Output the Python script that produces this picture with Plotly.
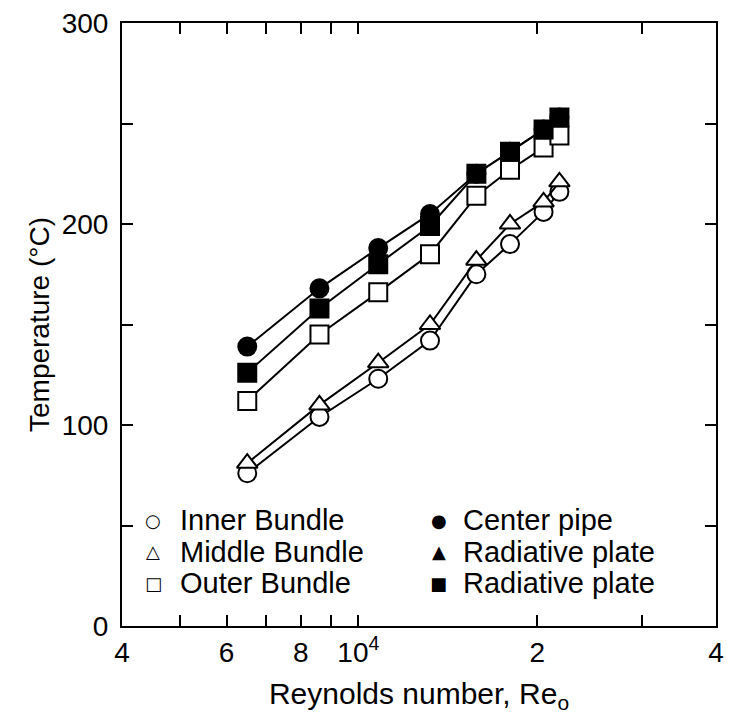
import plotly.graph_objects as go

# ---- data ----
reynolds = [6500, 8600, 10800, 13200, 15800, 18000, 20500, 21800]
inner_bundle = [76, 104, 123, 142, 175, 190, 206, 216]
middle_bundle = [81, 110, 131, 150, 182, 200, 211, 221]
outer_bundle = [112, 145, 166, 185, 214, 227, 238, 244]
center_pipe = [139, 168, 188, 205, 225, 236, 247, 253]
radiative_plate_sq = [126, 158, 180, 199, 225, 236, 247, 253]

x_tickvals = [4000, 6000, 8000, 10000, 20000, 40000]
x_ticktext = ["4", "6", "8", "10<sup>4</sup>", "2", "4"]
x_minorvals = [5000, 7000, 9000, 30000]
y_tickvals = [0, 100, 200, 300]
y_ticktext = ["0", "100", "200", "300"]
y_minorvals = [50, 150, 250]

legend_left = [("○", "Inner Bundle"), ("△", "Middle Bundle"), ("□", "Outer Bundle")]
legend_right = [("●", "Center pipe"), ("▲", "Radiative plate"), ("■", "Radiative plate")]

FONT = "Liberation Sans, Arial, Helvetica, sans-serif"
FS_TICK = 28
FS_TEXT = 29
MS = 18

fig = go.Figure()

series = [
    ("Center pipe", center_pipe, "circle", "black"),
    ("Inner Bundle", inner_bundle, "circle", "white"),
    ("Middle Bundle", middle_bundle, "triangle-up", "white"),
    ("Outer Bundle", outer_bundle, "square", "white"),
    ("Radiative plate", radiative_plate_sq, "square", "black"),
]
for name, vals, sym, fill in series:
    fig.add_trace(go.Scatter(
        x=reynolds, y=vals, mode="lines+markers", name=name, showlegend=False,
        line=dict(color="black", width=2),
        marker=dict(symbol=sym, size=MS, color=fill, line=dict(color="black", width=2)),
    ))

axis_common = dict(
    showline=True, linecolor="black", linewidth=2, mirror="allticks",
    ticks="inside", ticklen=11, tickwidth=1.5, tickcolor="black",
    showgrid=False, zeroline=False,
    tickfont=dict(family=FONT, size=FS_TICK, color="black"),
)

fig.update_xaxes(
    type="log", range=[3.60206, 4.60206],
    tickmode="array", tickvals=x_tickvals, ticktext=x_ticktext,
    minor=dict(tickmode="array", tickvals=x_minorvals, ticks="inside", ticklen=11,
               tickwidth=1.5, tickcolor="black", showgrid=False),
    title=dict(text="Reynolds number, Re<sub>o</sub>", font=dict(family=FONT, size=30, color="black"), standoff=16),
    **axis_common,
)
fig.update_yaxes(
    range=[0, 300],
    tickmode="array", tickvals=y_tickvals, ticktext=y_ticktext,
    ticklabelstandoff=6,
    minor=dict(tickmode="array", tickvals=y_minorvals, ticks="inside", ticklen=11,
               tickwidth=1.5, tickcolor="black", showgrid=False),
    title=dict(text="Temperature (°C)", font=dict(family=FONT, size=28, color="black"), standoff=4),
    **axis_common,
)

# legend drawn as text glyphs in two columns
rows_y = [0.175, 0.123, 0.071]
for col, (sym_x, txt_x) in zip([legend_left, legend_right], [(0.053, 0.095), (0.533, 0.571)]):
    for (sym, label), yy in zip(col, rows_y):
        fig.add_annotation(x=sym_x, y=yy, xref="paper", yref="paper", text=sym, showarrow=False,
                           xanchor="center", yanchor="middle",
                           font=dict(family="DejaVu Sans", size=18, color="black"))
        fig.add_annotation(x=txt_x, y=yy, xref="paper", yref="paper", text=label, showarrow=False,
                           xanchor="left", yanchor="middle",
                           font=dict(family=FONT, size=FS_TEXT, color="black"))

fig.update_layout(
    width=732, height=723,
    margin=dict(l=122, r=8, t=21, b=97),
    paper_bgcolor="white", plot_bgcolor="white",
    showlegend=False,
)

fig.write_html("out.html")
